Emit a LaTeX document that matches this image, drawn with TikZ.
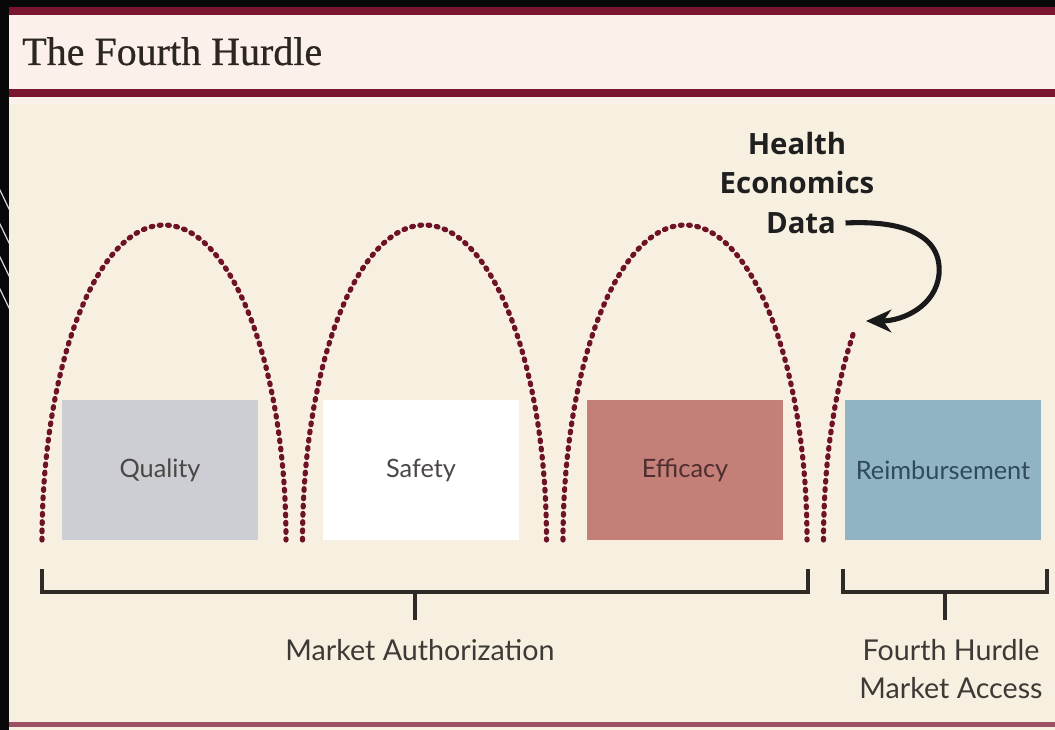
\documentclass[tikz,border=0pt]{standalone}
\usepackage{fontspec}
\setmainfont{Liberation Serif}
\newfontfamily\titlefont[FakeBold=0.6]{Liberation Serif}
\newfontfamily\labelfont{Lato}
\newfontfamily\boldfont{Open Sans}
\usetikzlibrary{arrows.meta}

\definecolor{frame}{HTML}{080808}
\definecolor{rule}{HTML}{7A1530}
\definecolor{paper}{HTML}{F7F0E1}
\definecolor{band}{HTML}{FBF1EA}
\definecolor{hurdle}{HTML}{6E1226}
\definecolor{quality}{HTML}{CDCED3}
\definecolor{safety}{HTML}{FFFFFF}
\definecolor{efficacy}{HTML}{C57F79}
\definecolor{reimb}{HTML}{90B4C3}
\definecolor{titleink}{HTML}{2B2622}
\definecolor{boxink}{HTML}{4A4746}
\definecolor{reimbink}{HTML}{2F4A5A}
\definecolor{efficacyink}{HTML}{4E2E2E}
\definecolor{bracketink}{HTML}{2E2A26}
\definecolor{captionink}{HTML}{3D3935}

\tikzset{
  hurdlepath/.style={draw=hurdle, line width=3.9pt, line cap=round, dash pattern=on 1.3pt off 4.9pt},
  stepbox/.style={minimum width=147pt, minimum height=105pt, inner sep=0pt,
    font=\labelfont\fontsize{19}{22}\selectfont},
  bracket/.style={draw=bracketink, line width=2.5pt},
  caption/.style={font=\labelfont\fontsize{21.5}{26}\selectfont, text=captionink, inner sep=0pt},
  evidence/.style={font=\boldfont\bfseries\fontsize{22}{26}\selectfont, text=black!88, inner sep=0pt},
  evidencearrow/.style={draw=black!90, line width=3.8pt, -{Stealth[length=19pt,width=17pt]}}
}

\begin{document}
\begin{tikzpicture}[x=0.75pt,y=-0.75pt]
\useasboundingbox (0,0) rectangle (1055,730);

% paper, title band and frame
\fill[paper] (0,0) rectangle (1055,730);
\fill[band] (9,15) rectangle (1055,89);
\fill[band] (9,97) rectangle (1055,104);
\fill[frame] (0,0) rectangle (1055,7);
\fill[frame] (0,0) rectangle (9,730);
\begin{scope}
  \clip (0,180) rectangle (9,320);
  \foreach \yy in {186,220,253,285}
    \draw[white!70!gray, line width=0.9pt] (-2,\yy) -- (11,\yy+27);
\end{scope}

% red rules
\fill[rule] (9,7) rectangle (1055,15);
\fill[rule] (9,89) rectangle (1055,97);
\fill[rule!75!white] (9,722) rectangle (1055,727);

% title
\node[anchor=base west, inner sep=0pt, text=titleink,
      font=\titlefont\fontsize{30}{36}\selectfont] (title) at (22,65) {The Fourth Hurdle};

% the four hurdles
\node[stepbox, fill=quality,  text=boxink]      (quality)  at (160,470) {Quality};
\node[stepbox, fill=safety,   text=boxink]      (safety)   at (421,470) {Safety};
\node[stepbox, fill=efficacy, text=efficacyink] (efficacy) at (685,470) {Efficacy};
\node[stepbox, fill=reimb,    text=reimbink]    (reimb)    at (943,470) {Reimbursement};

% jumps over the hurdles
\foreach \c in {164,424.5,685}
  \draw[hurdlepath] plot[smooth, domain=180:360, samples=90]
    ({\c+122*cos(\x)},{540+315*sin(\x)});
\draw[hurdlepath] plot[smooth, domain=180:222, samples=30]
    ({945.5+122*cos(\x)},{540+315*sin(\x)});
\coordinate (landing) at (866,321);
\coordinate (bend) at (939,274);

% health economics evidence
\node[evidence] (health) at (797,144) {Health};
\node[evidence] (econ)   at (797,183) {Economics};
\node[evidence, inner sep=7pt] (data) at (801,223) {Data};
\draw[evidencearrow] (data.east) .. controls (905,220) and (942,236) .. (bend)
  .. controls (936,306) and (903,321) .. (landing);

% brackets
\draw[bracket] (42,569) |- (808,592) -- (808,569);
\coordinate (matick) at (415,592);
\coordinate (maend) at (415,620);
\draw[bracket] (matick) -- (maend);
\draw[bracket] (843,569) |- (1047,592) -- (1047,569);
\coordinate (fhtick) at (945,592);
\coordinate (fhend) at (945,620);
\draw[bracket] (fhtick) -- (fhend);

\node[caption, anchor=base] (ma) at (420,660) {Market Authorization};
\node[caption, anchor=base] (fh) at (951,660) {Fourth Hurdle};
\node[caption, anchor=base] (access) at (951,698) {Market Access};
\end{tikzpicture}
\end{document}
